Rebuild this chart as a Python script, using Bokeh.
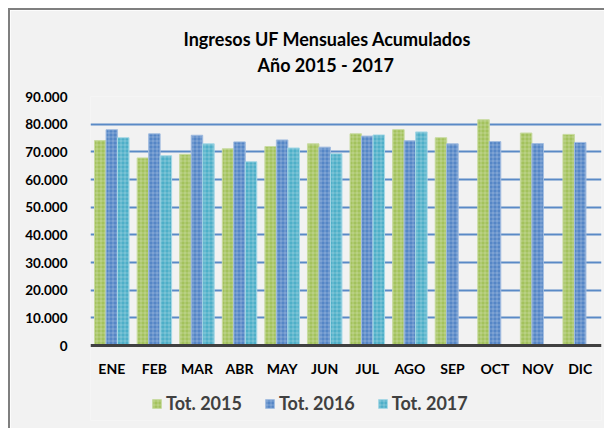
from bokeh.plotting import figure
from bokeh.models import (FactorRange, Range1d, FixedTicker, Legend, LegendItem,
                          Title, ColumnDataSource)
from bokeh.transform import dodge
from bokeh.embed import file_html
from bokeh.resources import INLINE

months = ["ENE", "FEB", "MAR", "ABR", "MAY", "JUN", "JUL", "AGO", "SEP", "OCT", "NOV", "DIC"]
tot_2015 = [74100, 67800, 69100, 71100, 71900, 72900, 76500, 78000, 75100, 81600, 76800, 76300]
tot_2016 = [78000, 76500, 76000, 73600, 74300, 71700, 75700, 74000, 72900, 73700, 73000, 73400]
months_2017 = ["ENE", "FEB", "MAR", "ABR", "MAY", "JUN", "JUL", "AGO"]
tot_2017 = [75100, 68600, 72900, 66400, 71400, 69300, 76100, 77200]
series_names = ["Tot. 2015", "Tot. 2016", "Tot. 2017"]
y_ticks = [0, 10000, 20000, 30000, 40000, 50000, 60000, 70000, 80000, 90000]
y_tick_labels = ["0", "10.000", "20.000", "30.000", "40.000", "50.000", "60.000", "70.000", "80.000", "90.000"]
title_lines = ["Ingresos UF Mensuales Acumulados", "Año 2015 - 2017"]

FONT = "Lato"
BG = "#f2f2f2"
Y_START = -27100   # extra room under the baseline for month labels and legend
Y_END = 90000

p = figure(width=596, height=420, x_range=FactorRange(*months, range_padding=0),
           y_range=Range1d(Y_START, Y_END), output_backend="svg", toolbar_location=None,
           min_border_left=80, min_border_right=5, min_border_top=86, min_border_bottom=10)
p.margin = (8, 0, 0, 8)
p.styles = {"border-left": "2px solid #7f7f7f", "border-top": "2px solid #7f7f7f"}
p.background_fill_color = BG
p.border_fill_color = BG
p.outline_line_color = None
p.title.visible = False

src15 = ColumnDataSource(dict(m=months, v=tot_2015))
src16 = ColumnDataSource(dict(m=months, v=tot_2016))
src17 = ColumnDataSource(dict(m=months_2017, v=tot_2017))

w = 0.27
common = dict(width=w, bottom=0, top="v", hatch_pattern="+", hatch_color="white",
              hatch_alpha=0.25, hatch_scale=4, hatch_weight=1, line_width=1)
r15 = p.vbar(x=dodge("m", -w, range=p.x_range), source=src15, fill_color="#a3c25d",
             line_color="#c8dba0", **common)
r16 = p.vbar(x=dodge("m", 0, range=p.x_range), source=src16, fill_color="#5586c6",
             line_color="#a3bde0", **common)
r17 = p.vbar(x=dodge("m", w, range=p.x_range), source=src17, fill_color="#4eafc8",
             line_color="#a6d8e6", **common)

p.yaxis.ticker = FixedTicker(ticks=y_ticks)
p.yaxis.major_label_overrides = {t: l for t, l in zip(y_ticks, y_tick_labels)}
p.yaxis.axis_line_color = None
p.yaxis.major_tick_line_color = None
p.yaxis.minor_tick_line_color = None
p.yaxis.major_label_standoff = 17
p.yaxis.major_label_text_font = FONT
p.yaxis.major_label_text_font_style = "bold"
p.yaxis.major_label_text_font_size = "13.5px"
p.yaxis.major_label_text_color = "black"

p.xaxis.fixed_location = 0
p.xaxis.axis_line_color = "#404040"
p.xaxis.axis_line_width = 3
p.xaxis.major_tick_line_color = None
p.xaxis.minor_tick_line_color = None
p.xaxis.major_label_standoff = 8
p.xaxis.major_label_text_font = FONT
p.xaxis.major_label_text_font_style = "bold"
p.xaxis.major_label_text_font_size = "14px"
p.xaxis.major_label_text_color = "black"

p.xgrid.grid_line_color = None
p.ygrid.ticker = FixedTicker(ticks=y_ticks[1:])
p.ygrid.grid_line_color = "#5a8ac6"
p.ygrid.grid_line_width = 2

spacer = Title(text=" ", text_font_size="1px", standoff=18)
t2 = Title(text=title_lines[1], align="left", offset=167, text_font=FONT,
           text_font_style="bold", text_font_size="18px", text_color="black",
           standoff=0)
t1 = Title(text=title_lines[0], align="left", offset=93, text_font=FONT,
           text_font_style="bold", text_font_size="18px", text_color="black",
           standoff=3)
p.add_layout(spacer, "above")
p.add_layout(t2, "above")
p.add_layout(t1, "above")

legend = Legend(items=[LegendItem(label=series_names[0], renderers=[r15]),
                       LegendItem(label=series_names[1], renderers=[r16]),
                       LegendItem(label=series_names[2], renderers=[r17])],
                orientation="horizontal", location=(61, 6), padding=0, margin=0,
                glyph_width=11, glyph_height=11, label_standoff=4, spacing=22,
                label_text_font=FONT, label_text_font_style="bold",
                label_text_font_size="18px", label_text_color="#404040",
                background_fill_alpha=0, border_line_color=None)
p.add_layout(legend, "center")

open("out.html", "w").write(file_html(p, INLINE))
